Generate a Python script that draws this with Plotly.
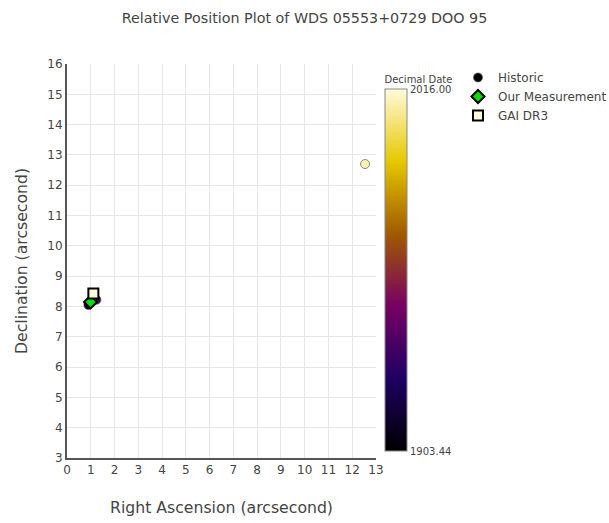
import plotly.graph_objects as go

# Data
hist_ra = [0.90, 1.24, 12.54]
hist_dec = [8.05, 8.22, 12.70]
hist_date = [1903.44, 1935.0, 2012.0]

our_ra = [0.99]
our_dec = [8.15]

gaia_ra = [1.11]
gaia_dec = [8.43]
gaia_date = [2016.00]

cmin, cmax = 1903.44, 2016.00
font_family = "Verdana, DejaVu Sans, sans-serif"

fig = go.Figure()

fig.add_trace(go.Scatter(
    x=hist_ra, y=hist_dec, mode="markers", name="Historic",
    marker=dict(symbol="circle", size=9, color=hist_date, colorscale="Electric",
                cmin=cmin, cmax=cmax, line=dict(color="rgba(90,90,90,0.7)", width=1),
                colorbar=dict(
                    title=dict(text="Decimal Date", side="top", font=dict(size=10, color="#444")),
                    tickvals=[cmin, cmax], ticktext=["1903.44", "2016.00"],
                    tickfont=dict(size=10, color="#444"),
                    thickness=22, lenmode="pixels", len=378,
                    x=(385 - 67) / 309, xanchor="left", xpad=0,
                    y=(458 - 262) / 394, yanchor="middle", ypad=0,
                    outlinecolor="#888", outlinewidth=1, ticks="")),
))

fig.add_trace(go.Scatter(
    x=our_ra, y=our_dec, mode="markers", name="Our Measurement",
    marker=dict(symbol="diamond", size=10, color="#00dd00", line=dict(color="black", width=2)),
))

fig.add_trace(go.Scatter(
    x=gaia_ra, y=gaia_dec, mode="markers", name="GAI DR3",
    marker=dict(symbol="square", size=10, color=gaia_date, colorscale="Electric",
                cmin=cmin, cmax=cmax, line=dict(color="black", width=2)),
))

fig.update_layout(
    width=609, height=523,
    margin=dict(l=67, r=233, t=64, b=65, autoexpand=False),
    paper_bgcolor="white", plot_bgcolor="white",
    font=dict(family=font_family, color="#444", size=12),
    title=dict(text="Relative Position Plot of WDS 05553+0729 DOO 95",
               x=0.5, xref="container", xanchor="center", y=0.965, yanchor="middle",
               font=dict(size=14.3, color="#444")),
    legend=dict(x=(458 - 67) / 309, y=(458 - 63) / 394, xanchor="left", yanchor="top",
                font=dict(size=12, color="#444"), traceorder="normal",
                bgcolor="rgba(0,0,0,0)", itemsizing="trace", tracegroupgap=0,
                itemwidth=30),
    showlegend=True,
)

fig.update_xaxes(range=[0, 13], dtick=1, tick0=0, showgrid=True, gridcolor="#e6e6e6",
                 showline=True, linecolor="#555", linewidth=2, zeroline=False,
                 ticks="", tickfont=dict(size=12),
                 title=dict(text="Right Ascension (arcsecond)", font=dict(size=15.7), standoff=26))
fig.update_yaxes(range=[3, 16], dtick=1, tick0=0, showgrid=True, gridcolor="#e6e6e6",
                 showline=True, linecolor="#555", linewidth=2, zeroline=False,
                 ticks="", tickfont=dict(size=12),
                 title=dict(text="Declination (arcsecond)", font=dict(size=15.7), standoff=16))

fig.write_html("out.html")
